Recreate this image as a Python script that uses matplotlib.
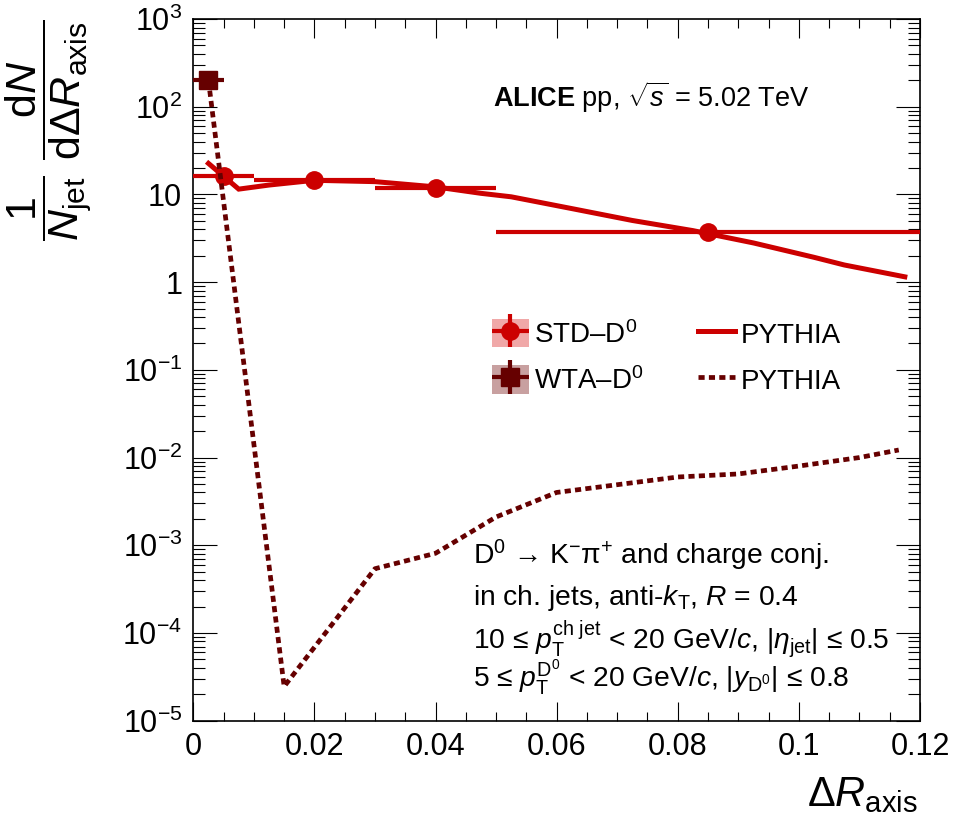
import numpy as np
import matplotlib.pyplot as plt
from matplotlib.patches import Patch
from matplotlib.container import ErrorbarContainer
from matplotlib.legend_handler import HandlerErrorbar
from matplotlib.ticker import MultipleLocator, LogLocator, FuncFormatter, NullFormatter

plt.rcParams['font.family'] = ['Liberation Sans', 'DejaVu Sans']
plt.rcParams['mathtext.fontset'] = 'custom'
plt.rcParams['mathtext.rm'] = 'Liberation Sans'
plt.rcParams['mathtext.it'] = 'Liberation Sans:italic'
plt.rcParams['mathtext.bf'] = 'Liberation Sans:bold'
plt.rcParams['mathtext.sf'] = 'Liberation Sans'

# measured STD-D0 points (bin centre, bin edges, value)
std_x = [0.005, 0.02, 0.04, 0.085]
std_lo = [0.0, 0.01, 0.03, 0.05]
std_hi = [0.01, 0.03, 0.05, 0.12]
std_y = [16.2, 14.5, 11.9, 3.73]
std_yerr = [0.3, 0.2, 0.2, 0.08]

# measured WTA-D0 point
wta_x = [0.0025]
wta_lo = [0.0]
wta_hi = [0.005]
wta_y = [201.0]
wta_yerr = [4.0]

# PYTHIA curves
py_std_x = [0.0025, 0.0075, 0.0125, 0.02, 0.03, 0.04, 0.0475, 0.0525, 0.0625,
            0.0725, 0.0825, 0.0925, 0.1025, 0.1075, 0.1175]
py_std_y = [22.6, 11.5, 12.8, 14.5, 14.0, 12.2, 10.3, 9.4, 6.9,
            5.05, 3.87, 2.8, 1.92, 1.57, 1.15]

py_wta_x = [0.0025, 0.015, 0.03, 0.04, 0.05, 0.06, 0.07, 0.08, 0.09, 0.1, 0.11, 0.1165]
py_wta_y = [200.0, 2.45e-5, 5.4e-4, 8.1e-4, 2.1e-3, 4.0e-3, 4.9e-3, 6.0e-3, 6.5e-3,
            8.0e-3, 1.0e-2, 1.22e-2]

red = '#cc0000'
dark = '#660000'

W, H = 957, 825


def fpos(x, y):
    # pixel position -> figure fraction
    return x / W, 1 - y / H


fig = plt.figure(figsize=(9.57, 8.25), dpi=100)
ax = fig.add_axes([0.202, 0.1265, 0.7593, 0.8504])

std_xerr = [np.array(std_x) - np.array(std_lo), np.array(std_hi) - np.array(std_x)]
wta_xerr = [np.array(wta_x) - np.array(wta_lo), np.array(wta_hi) - np.array(wta_x)]

l_std, = ax.plot(py_std_x, py_std_y, color=red, lw=3.6, solid_joinstyle='miter', zorder=2)
std_eb = ax.errorbar(std_x, std_y, xerr=std_xerr, yerr=std_yerr, fmt='o', color=red,
                     ms=12.5, elinewidth=3, capsize=0, zorder=3)
l_wta, = ax.plot(py_wta_x, py_wta_y, color=dark, lw=3.4, linestyle=(0, (1.3, 0.9)),
                 dash_capstyle='butt', zorder=4)
wta_eb = ax.errorbar(wta_x, wta_y, xerr=wta_xerr, yerr=wta_yerr, fmt='s', color=dark,
                     ms=13, elinewidth=3, capsize=0, zorder=5)

ax.set_xlim(0, 0.12)
ax.set_yscale('log')
ax.set_ylim(1e-5, 1e3)

ax.xaxis.set_major_locator(MultipleLocator(0.02))
ax.xaxis.set_minor_locator(MultipleLocator(0.005))
ax.xaxis.set_major_formatter(FuncFormatter(lambda v, p: f'{v:g}'))
ax.yaxis.set_major_locator(LogLocator(base=10, numticks=20))
ax.yaxis.set_minor_locator(LogLocator(base=10, subs=np.arange(2, 10), numticks=20))
ax.yaxis.set_minor_formatter(NullFormatter())


def ylab(v, p):
    e = int(round(np.log10(v)))
    if e == 0:
        return '1'
    if e == 1:
        return '10'
    return r'$\mathregular{10^{%d}}$' % e


ax.yaxis.set_major_formatter(FuncFormatter(ylab))

ax.tick_params(which='both', direction='in', top=True, right=True, width=0.8,
               labelsize=22, pad=8)
ax.tick_params(axis='x', which='major', length=13.5)
ax.tick_params(axis='x', which='minor', length=6.7)
ax.tick_params(axis='y', which='major', length=17)
ax.tick_params(axis='y', which='minor', length=8.6)
for s in ax.spines.values():
    s.set_linewidth(1.2)

# axis titles
fig.text(*fpos(49, 130), r'$\dfrac{1}{N_{\mathrm{jet}}}\ \dfrac{\mathrm{d}N}{\mathrm{d}\Delta R_{\mathrm{axis}}}$',
         rotation=90, ha='center', va='center', fontsize=31)
fig.text(*fpos(918, 806), r'$\Delta R_{\mathrm{axis}}$', ha='right', va='baseline', fontsize=30)

# labels
fig.text(*fpos(493, 106.7), r'$\mathbf{ALICE}$ pp, $\sqrt{s}$ = 5.02 TeV', fontsize=19.5,
         va='baseline')
txt = [
    r'D$^{0}$ → K$^{-}$π$^{+}$ and charge conj.',
    r'in ch. jets, anti-$k_{\mathrm{T}}$, $R$ = 0.4',
    r'10 ≤ $p_{\mathrm{T}}^{\mathrm{ch\ jet}}$ < 20 GeV/$c$, |$\eta_{\mathrm{jet}}$| ≤ 0.5',
    r'5 ≤ $p_{\mathrm{T}}^{\mathrm{D^{0}}}$ < 20 GeV/$c$, |$y_{\mathrm{D^{0}}}$| ≤ 0.8',
]
for t, yb in zip(txt, [564.3, 605, 648.3, 688.3]):
    fig.text(*fpos(473, yb), t, fontsize=20.3, va='baseline')

# legend
h_std = (Patch(facecolor='#f0a8a8', edgecolor='none'), std_eb)
h_wta = (Patch(facecolor='#c8a0a0', edgecolor='none'), wta_eb)
leg = ax.legend([h_std, h_wta, l_std, l_wta],
                ['STD\u2013D$^{0}$', 'WTA\u2013D$^{0}$', 'PYTHIA', 'PYTHIA'],
                ncol=2, frameon=False, fontsize=20,
                loc='upper left', bbox_to_anchor=fpos(491.7, 319),
                bbox_transform=fig.transFigure, borderpad=0, borderaxespad=0,
                handlelength=1.33, handleheight=1.2, handletextpad=0.2,
                columnspacing=1.95, labelspacing=0.6,
                handler_map={ErrorbarContainer: HandlerErrorbar(xerr_size=0.66, yerr_size=0.6)})

fig.savefig('out.png', dpi=100)
